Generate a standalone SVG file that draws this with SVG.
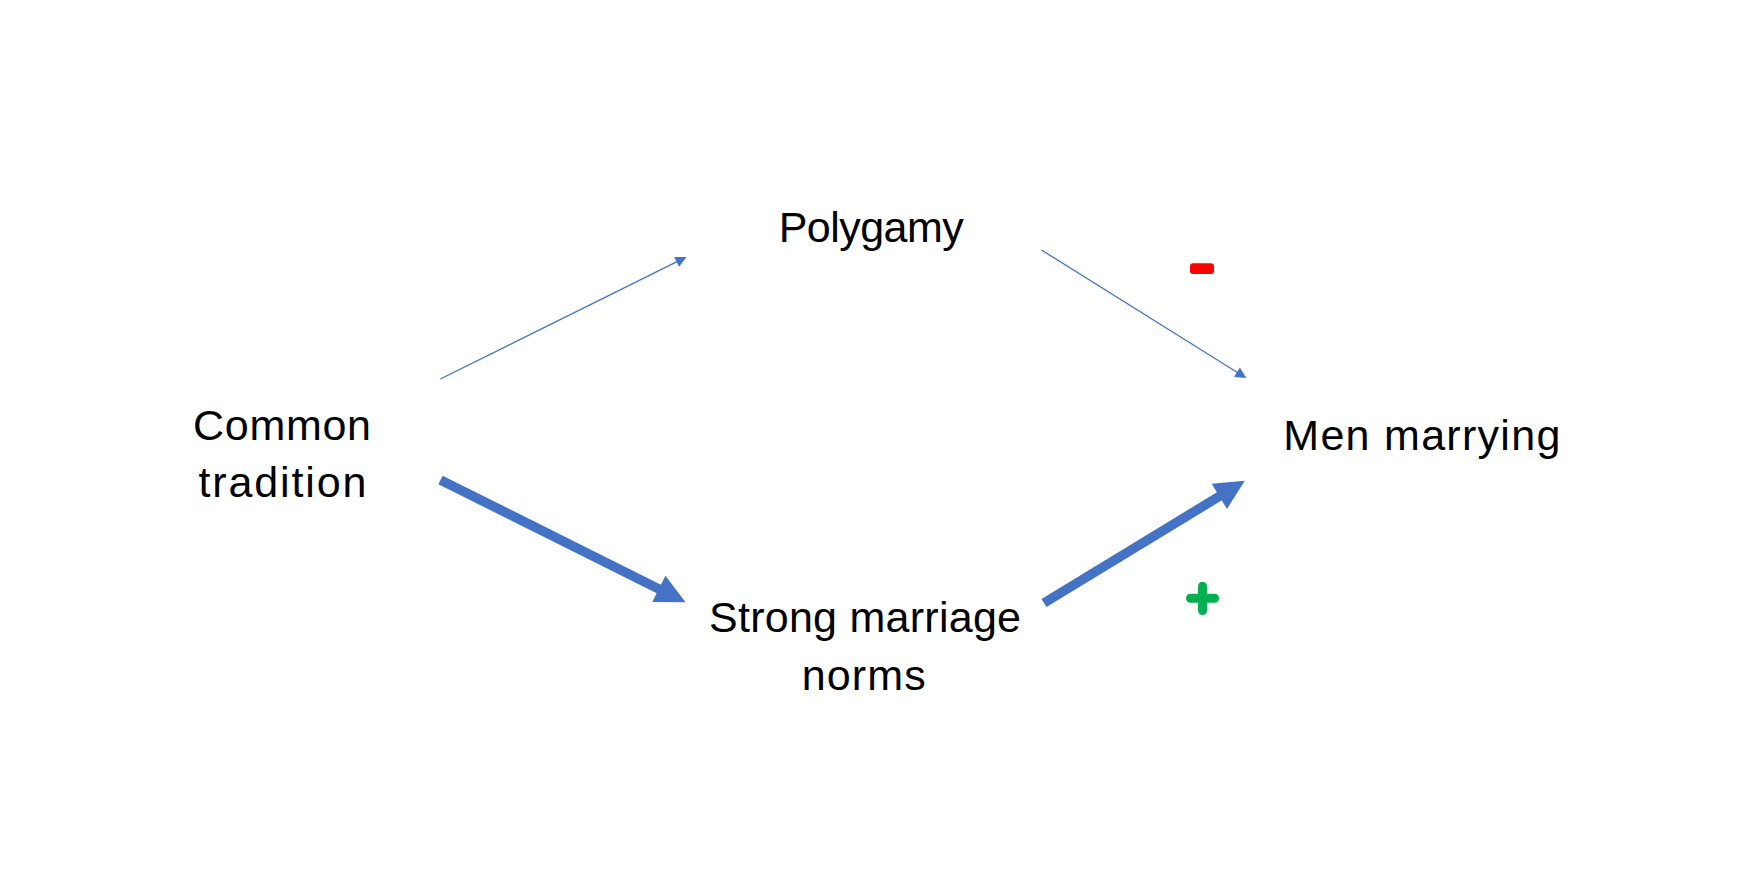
<svg xmlns="http://www.w3.org/2000/svg" width="1744" height="885" viewBox="0 0 1744 885">
<style>
  .lbl { font-family: "Liberation Sans", Arial, sans-serif; font-size: 43px; fill: #000000; text-anchor: middle; }
  .thin { stroke: #4472C4; stroke-width: 1.3; fill: none; }
  .thick { stroke: #4472C4; stroke-width: 9.5; fill: none; stroke-linecap: butt; }
</style>
<defs>
  <marker id="headThin" markerUnits="userSpaceOnUse" markerWidth="12" markerHeight="12" refX="0.5" refY="5.5" orient="auto" overflow="visible">
    <path d="M0,0 L11,5.5 L0,11 z" fill="#4472C4"/>
  </marker>
  <marker id="headThick" markerUnits="userSpaceOnUse" markerWidth="31" markerHeight="30" refX="1" refY="14.7" orient="auto" overflow="visible">
    <path d="M0,0 L29.8,14.7 L0,29.4 z" fill="#4472C4"/>
  </marker>
</defs>
<rect width="1744" height="885" fill="#FFFFFF"/>
<g id="connectors">
  <line id="e1" class="thin" x1="440.4" y1="379" x2="677.1" y2="261.6" marker-end="url(#headThin)"/>
  <line id="e2" class="thin" x1="1041.5" y1="250" x2="1237.4" y2="372.5" marker-end="url(#headThin)"/>
  <line id="e3" class="thick" x1="440.5" y1="480" x2="659.8" y2="589.4" marker-end="url(#headThick)"/>
  <line id="e4" class="thick" x1="1044" y1="603" x2="1220.2" y2="495.8" marker-end="url(#headThick)"/>
</g>
<g id="node-common">
  <text class="lbl" x="282" y="440" textLength="178" lengthAdjust="spacing">Common</text>
  <text class="lbl" x="282.5" y="496.7" textLength="168" lengthAdjust="spacing">tradition</text>
</g>
<g id="node-polygamy">
  <text class="lbl" x="871.2" y="241.7" textLength="185" lengthAdjust="spacing">Polygamy</text>
</g>
<g id="node-strong">
  <text class="lbl" x="865" y="631.7" textLength="312" lengthAdjust="spacing">Strong marriage</text>
  <text class="lbl" x="863.7" y="690" textLength="124" lengthAdjust="spacing">norms</text>
</g>
<g id="node-men">
  <text class="lbl" x="1421.8" y="450" textLength="277" lengthAdjust="spacing">Men marrying</text>
</g>
<g id="sign-minus">
  <rect x="1190" y="263.3" width="24" height="10.7" rx="3" fill="#FF0000"/>
</g>
<g id="sign-plus" stroke="#00B050" stroke-width="9" stroke-linecap="round">
  <line x1="1190.5" y1="598.3" x2="1214.5" y2="598.3"/>
  <line x1="1202.5" y1="586.2" x2="1202.5" y2="610.5"/>
</g>
</svg>
